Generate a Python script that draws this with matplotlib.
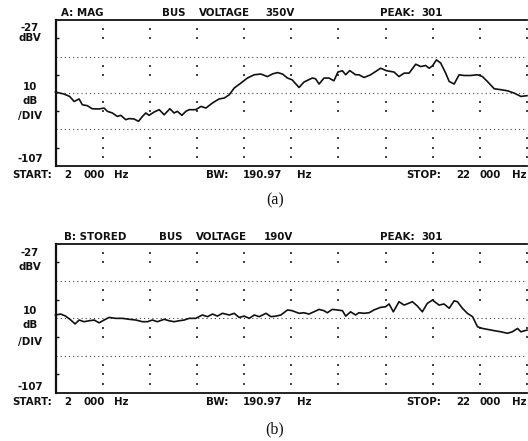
import matplotlib
matplotlib.use("Agg")
import matplotlib.pyplot as plt

# ---------------- data ----------------
freq_a = [2000, 2360, 2600, 2790, 3000, 3140, 3350, 3560, 3850, 4060, 4200, 4410,
          4620, 4770, 4980, 5120, 5330, 5520, 5690, 5830, 5970, 6180, 6400, 6610,
          6850, 7030, 7170, 7360, 7530, 7670, 7950, 8170, 8380, 8660, 8940, 9160,
          9370, 9580, 9860, 10140, 10430, 10710, 10990, 11210, 11420, 11630, 11840,
          12040, 12330, 12540, 12890, 13030, 13180, 13390, 13600, 13810, 13980,
          14170, 14310, 14480, 14730, 14870, 15090, 15370, 15580, 15790, 16050,
          16360, 16570, 16790, 17000, 17280, 17490, 17700, 17850, 17990, 18160,
          18340, 18550, 18700, 18910, 19120, 19330, 19610, 19900, 20110, 20320,
          20610, 20890, 21170, 21460, 21740, 22000]
level_a = [-66.5, -67.6, -68.9, -71.7, -70.3, -73.5, -74.0, -75.7, -75.8, -75.3, -77.1,
           -78.0, -79.9, -79.3, -81.7, -81.1, -81.3, -82.6, -79.9, -78.0, -79.3, -77.5,
           -76.2, -79.0, -75.7, -78.0, -77.1, -79.3, -77.1, -76.2, -76.2, -74.4, -75.3,
           -72.5, -70.3, -69.8, -68.0, -64.3, -61.6, -58.8, -57.0, -56.6, -58.0, -56.5,
           -55.8, -56.6, -58.8, -59.8, -64.0, -61.0, -58.8, -59.2, -62.1, -58.8, -58.8,
           -60.3, -55.5, -54.8, -57.0, -54.7, -57.0, -57.0, -58.5, -57.0, -55.2, -53.4,
           -54.8, -55.5, -58.0, -56.1, -56.1, -51.2, -52.5, -51.9, -53.4, -52.1, -48.8,
           -50.6, -56.1, -60.7, -62.1, -57.0, -57.4, -57.4, -57.0, -58.0, -60.7, -64.7,
           -65.2, -65.8, -67.1, -68.9, -68.5]

freq_b = [2000, 2220, 2430, 2650, 2830, 3000, 3210, 3420, 3640, 3850, 4060, 4270,
          4560, 4840, 5120, 5410, 5690, 5900, 6110, 6320, 6610, 6820, 7030, 7240,
          7460, 7670, 7950, 8230, 8450, 8660, 8870, 9080, 9370, 9580, 9790, 10000,
          10220, 10430, 10640, 10930, 11140, 11350, 11560, 11840, 12040, 12330,
          12540, 12750, 12960, 13180, 13390, 13530, 13740, 13950, 14170, 14310,
          14520, 14730, 14870, 15090, 15300, 15510, 15790, 16000, 16150, 16330,
          16570, 16790, 17140, 17350, 17560, 17770, 17990, 18270, 18480, 18700,
          18910, 19050, 19260, 19470, 19690, 19900, 20110, 20320, 20610, 20890,
          21170, 21380, 21600, 21740, 22000]
level_b = [-65.2, -64.7, -65.8, -67.9, -70.0, -67.9, -68.8, -68.3, -67.9, -69.4, -67.9,
           -66.5, -67.0, -67.0, -67.5, -67.9, -68.8, -68.8, -67.9, -68.8, -67.5, -68.3,
           -68.8, -68.3, -67.9, -67.0, -67.0, -65.2, -66.1, -64.7, -65.8, -64.3, -65.2,
           -64.3, -66.5, -65.8, -67.0, -65.2, -66.1, -64.3, -66.1, -65.8, -65.2, -62.5,
           -62.9, -64.3, -64.0, -64.7, -63.5, -62.2, -62.9, -64.0, -62.2, -62.5, -62.9,
           -65.8, -63.5, -65.2, -64.0, -64.3, -64.0, -62.5, -61.1, -60.8, -59.3, -63.5,
           -58.1, -59.9, -58.1, -60.4, -63.5, -59.0, -57.2, -59.9, -59.3, -61.6, -57.6,
           -58.1, -61.6, -64.3, -66.1, -71.5, -72.4, -72.9, -73.6, -74.2, -75.0, -74.2,
           -72.4, -74.2, -73.3]

f_start, f_stop = 2000, 22000
ref_level, bottom_level = -27, -107
major_grid_db = [-47, -67, -87]
vgrid_freqs = list(range(4000, 22001, 2000))
vgrid_dot_db = [-32, -37, -52, -57, -72, -77, -92, -97, -102]

head_a = ["A: MAG", "BUS", "VOLTAGE", "350V", "PEAK:", "301"]
head_b = ["B: STORED", "BUS", "VOLTAGE", "190V", "PEAK:", "301"]
left_labels = ["-27", "dBV", "10", "dB", "/DIV", "-107"]
foot_words = ["START:", "2", "000", "Hz", "BW:", "190.97", "Hz",
              "STOP:", "22", "000", "Hz"]

# ---------------- figure ----------------
W, H = 528, 441
plt.rcParams["lines.scale_dashes"] = False
fig = plt.figure(figsize=(W / 100, H / 100), dpi=100)
fig.patch.set_facecolor("white")

INK = "#111111"
LAB = dict(family="DejaVu Sans", fontweight="bold", fontsize=7.4, color=INK)


def ptext(x, y, s, ha="center", **kw):
    opts = dict(LAB)
    opts.update(kw)
    fig.text(x / W, 1 - y / H, s, ha=ha, va="center", **opts)


def make_axes(y_top, y_bot):
    x0, x1 = 55.5, 527.0
    ax = fig.add_axes([x0 / W, 1 - y_bot / H, (x1 - x0) / W, (y_bot - y_top) / H])
    ax.set_xlim(f_start, f_stop)
    ax.set_ylim(bottom_level, ref_level)
    ax.set_facecolor("white")
    ax.spines["right"].set_visible(False)
    ax.spines["left"].set_linewidth(1.6)
    ax.spines["top"].set_linewidth(1.3)
    ax.spines["bottom"].set_linewidth(1.3)
    for s in ax.spines.values():
        s.set_color(INK)
    ax.set_xticks([])
    ax.set_yticks([])
    ax.set_yticks([-37, -57, -77, -97], minor=True)
    ax.tick_params(axis="y", which="minor", direction="in", length=2.5,
                   width=1.0, color=INK, labelleft=False)
    ax.tick_params(axis="x", which="minor", bottom=False)
    for g in major_grid_db:
        ax.axhline(g, color="#444444", lw=0.8, linestyle=(0, (0.8, 2.2)), zorder=1)
    xs, ys = [], []
    for f in vgrid_freqs:
        for d in vgrid_dot_db:
            xs.append(f)
            ys.append(d)
    ax.scatter(xs, ys, s=0.6, color="#444444", marker="s", lw=0, zorder=1)
    return ax


ax_a = make_axes(20.2, 165.7)
ax_a.plot(freq_a, level_a, color=INK, lw=1.2, zorder=3, clip_on=False)

ax_b = make_axes(243.7, 393.0)
ax_b.plot(freq_b, level_b, color=INK, lw=1.2, zorder=3, clip_on=False)

# ---------------- annotation text ----------------
foot_x = [32.5, 67.5, 94, 121.5, 217, 262, 304, 423.5, 463, 490.5, 519.5]


def panel_text(y_head, head_words, head_x, left_y, y_foot, tag, y_tag):
    for s, x in zip(head_words, head_x):
        ptext(x, y_head, s)
    for s, y in zip(left_labels, left_y):
        ptext(30, y, s)
    for s, x in zip(foot_words, foot_x):
        ptext(x, y_foot, s)
    fig.text(275 / W, 1 - y_tag / H, tag, ha="center", va="center",
             family="Liberation Serif", fontsize=11.5, color=INK)


panel_text(13.5, head_a, [82.5, 174, 224.5, 280, 397.5, 432],
           [27.8, 37.8, 87, 100.5, 115.5, 159.5], 174.5, "(a)", 200)

panel_text(237, head_b, [95.5, 171, 221.5, 278, 397.5, 432],
           [253.5, 267, 311, 325, 342.5, 386.5], 402, "(b)", 429)

fig.savefig("out.png", dpi=100, facecolor="white")
